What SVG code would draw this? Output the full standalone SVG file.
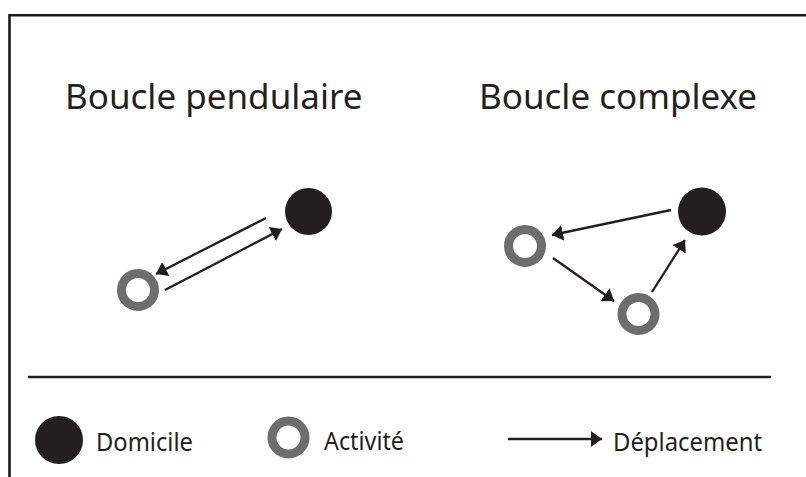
<svg xmlns="http://www.w3.org/2000/svg" width="806" height="477" viewBox="0 0 806 477">
<style>
.home{fill:#231f20}
.act{fill:none;stroke:#6d6d6d;stroke-width:9}
.t{font-family:"Noto Sans","Open Sans",sans-serif;fill:#231f20}
.title{font-size:35px}
.leg{font-size:26px}
.c{stroke:#231f20;stroke-width:2.3;fill:none;marker-end:url(#ah)}
</style>
<defs>
<marker id="ah" markerUnits="userSpaceOnUse" markerWidth="12" markerHeight="16" refX="11" refY="8" orient="auto" viewBox="0 0 12 16">
<path d="M0,0 L11,8 L0,16 Z" fill="#231f20"/>
</marker>
</defs>
<rect width="806" height="477" fill="#fff"/>
<g id="frame" stroke="#1a1a1a" stroke-width="2.6" fill="none">
<path d="M9.5,477 V15.3 H806"/>
<line x1="28" y1="377" x2="771" y2="377" stroke="#231f20" stroke-width="2.4"/>
</g>
<g id="titles">
<text class="t title" x="65" y="109">Boucle pendulaire</text>
<text class="t title" x="479" y="109">Boucle complexe</text>
</g>
<g id="node-p-home"><circle class="home" cx="308.5" cy="211.5" r="23.5"/></g>
<g id="node-p-act"><circle class="act" cx="138" cy="290" r="16.5"/></g>
<g id="node-c-home"><circle class="home" cx="702" cy="211.5" r="24"/></g>
<g id="node-c-act1"><circle class="act" cx="525" cy="246" r="16.5"/></g>
<g id="node-c-act2"><circle class="act" cx="638.5" cy="314" r="16.5"/></g>
<g id="connectors">
<line class="c" x1="266" y1="218" x2="156" y2="274"/>
<line class="c" x1="165" y1="290" x2="282" y2="229"/>
<line class="c" x1="671" y1="210" x2="552" y2="235"/>
<line class="c" x1="553" y1="258" x2="614" y2="301"/>
<line class="c" x1="652" y1="292" x2="685" y2="240"/>
<line class="c" x1="508" y1="439" x2="602" y2="439"/>
</g>
<g id="legend">
<g id="legend-home"><circle class="home" cx="59" cy="440" r="24"/><text class="t leg" x="96" y="450.5" textLength="97" lengthAdjust="spacingAndGlyphs">Domicile</text></g>
<g id="legend-act"><circle class="act" cx="288.5" cy="437.5" r="16.5"/><text class="t leg" x="324" y="449.5" textLength="80" lengthAdjust="spacingAndGlyphs">Activité</text></g>
<g id="legend-move"><text class="t leg" x="613" y="450.5" textLength="149" lengthAdjust="spacingAndGlyphs">Déplacement</text></g>
</g>
</svg>
